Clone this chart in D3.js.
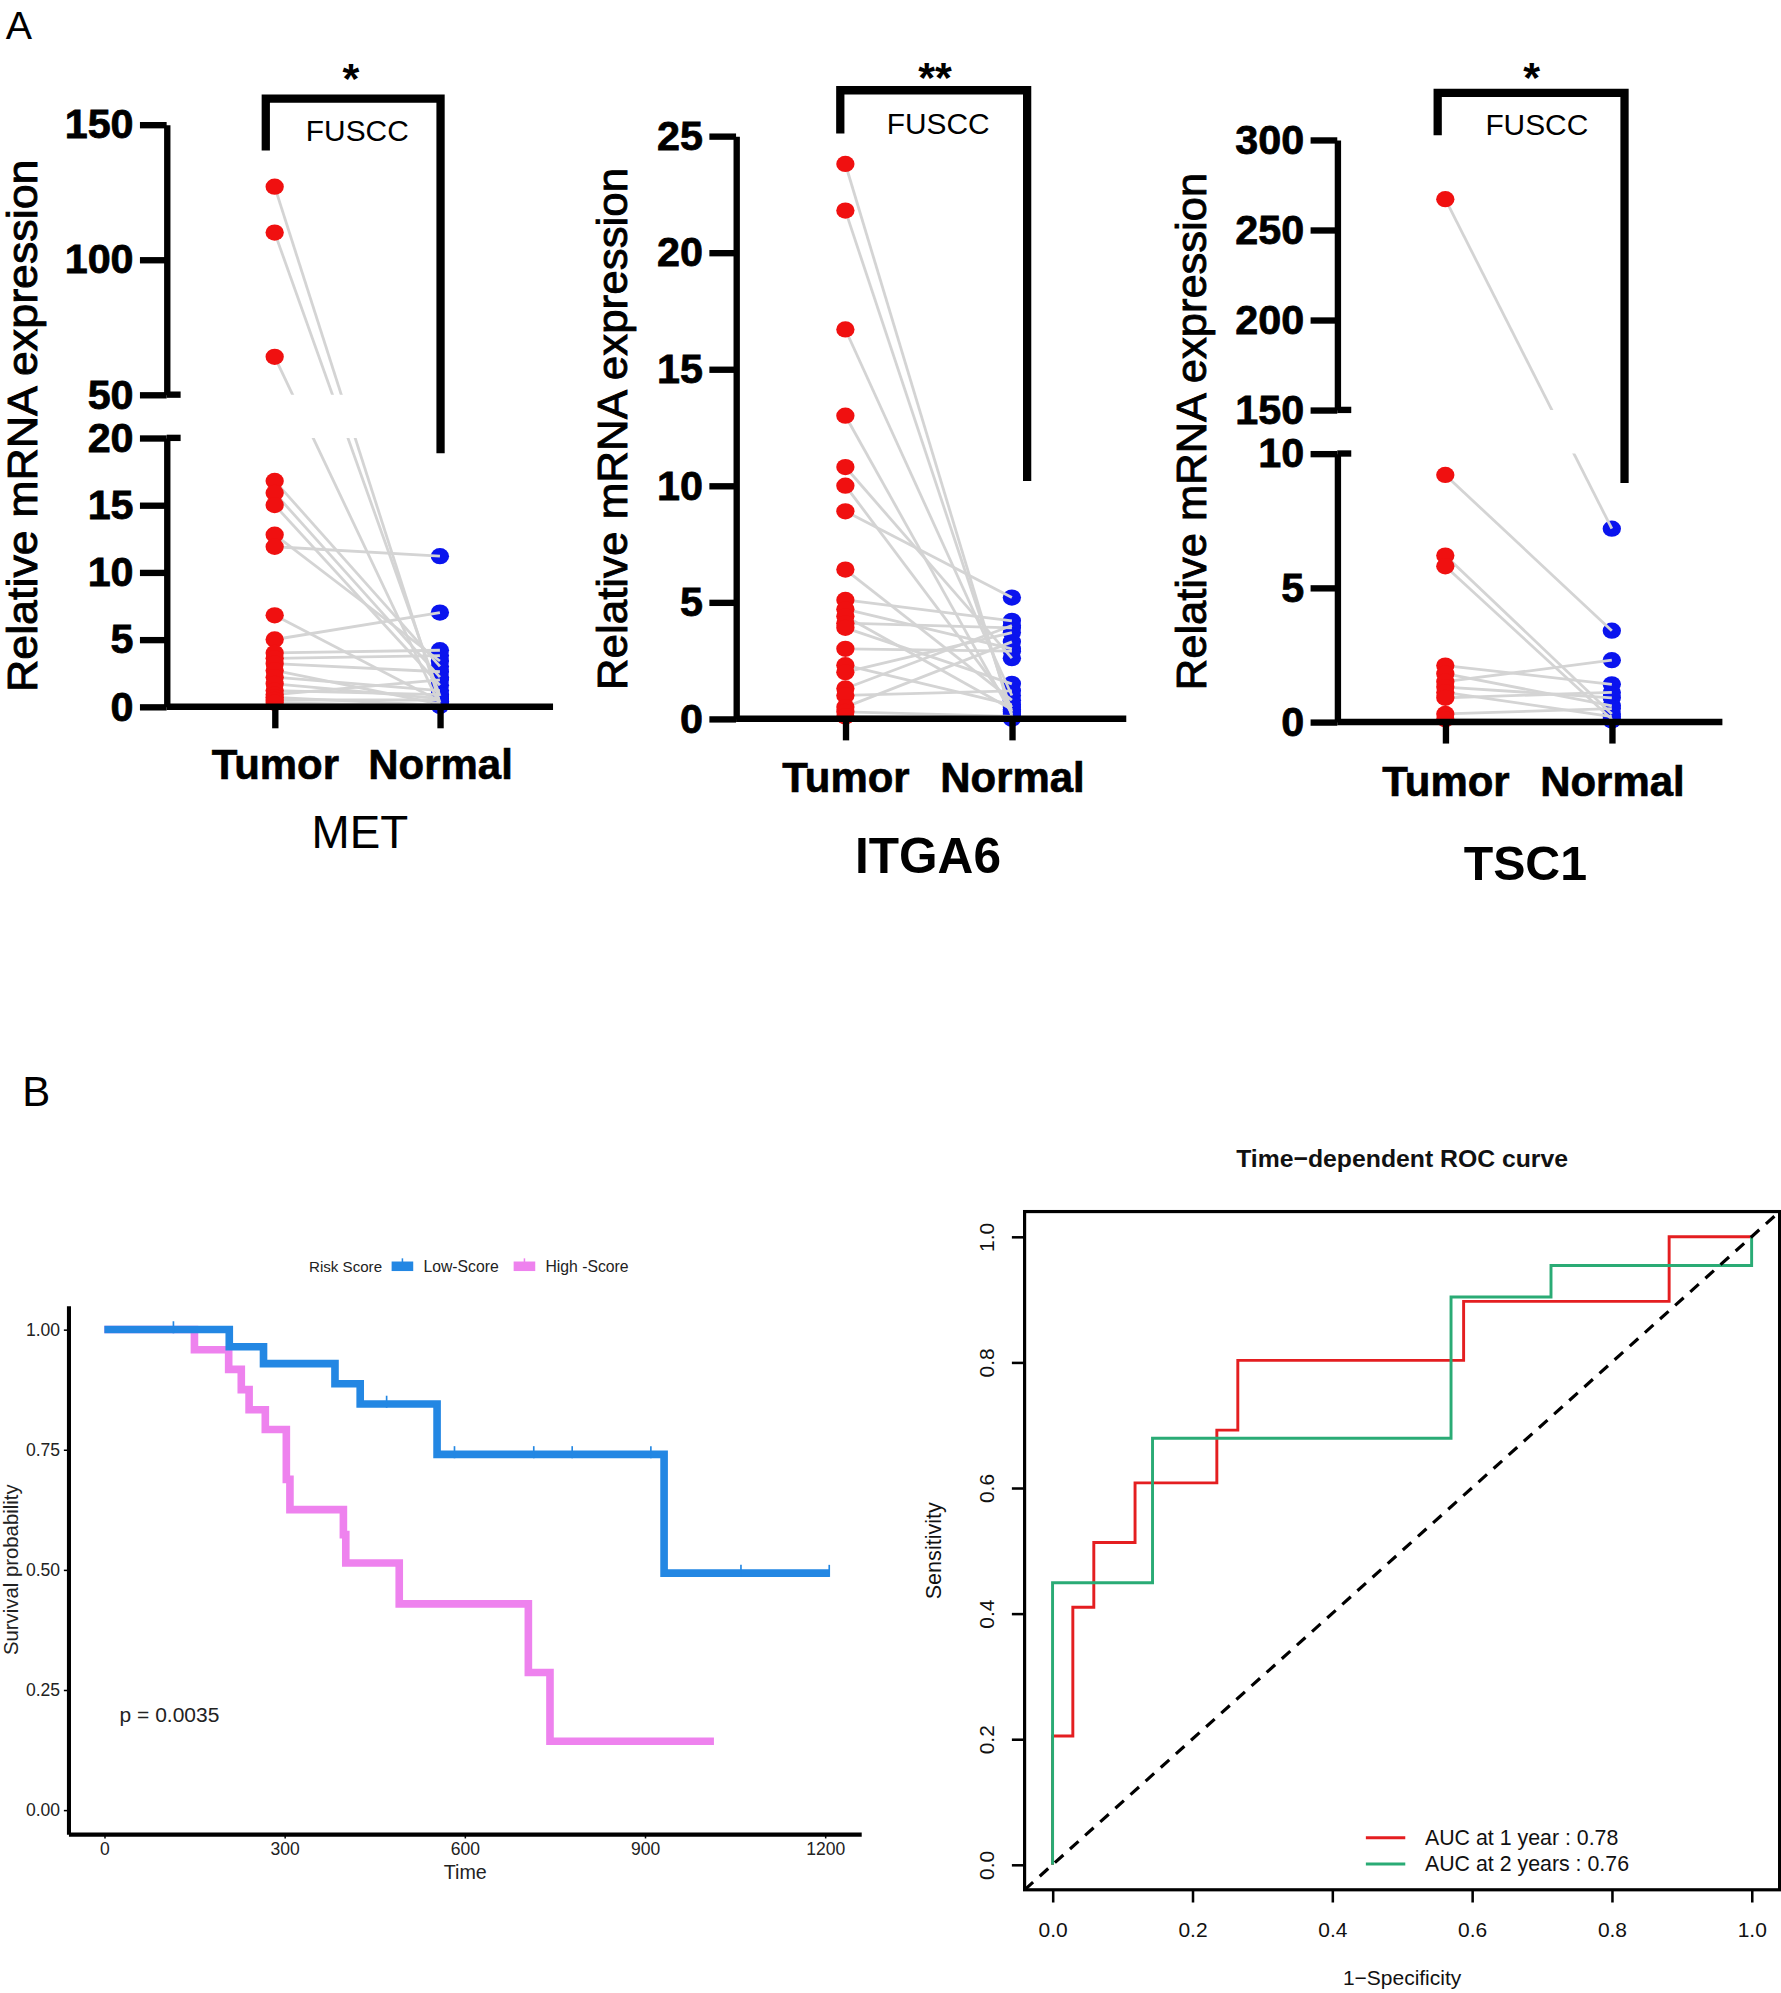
<!DOCTYPE html>
<html><head><meta charset="utf-8">
<script src="https://cdn.jsdelivr.net/npm/d3@7"></script>
<style>body{margin:0;background:#fff}svg{display:block}</style>
</head><body>
<svg id="fig" width="1781" height="1993" viewBox="0 0 1401 1568"></svg>
<script>
// ---------------- DATA ----------------
const pairCategories = ["Tumor", "Normal"];

const metTumor  = [127, 110, 64, 16.8, 15.9, 15.0, 12.8, 11.9, 6.8, 5.0, 4.0, 3.6, 3.2, 2.7, 2.2, 1.7, 1.2, 0.9, 0.7, 0.5, 0.3];
const metNormal = [0.3, 0.8, 0.1, 3.0, 2.2, 1.6, 3.4, 11.2, 0.4, 7.0, 4.2, 3.8, 2.6, 0.2, 1.2, 0.6, 0.9, 2.0, 0.1, 0.5, 0.05];
const metTicksLow = [0, 5, 10, 15, 20];
const metTicksHigh = [50, 100, 150];

const itgTumor  = [23.8, 21.8, 16.7, 13.0, 10.8, 10.0, 8.9, 6.4, 5.1, 4.7, 4.4, 4.1, 3.9, 3.0, 2.3, 2.0, 1.3, 1.0, 0.5, 0.3, 0.1];
const itgNormal = [0.1, 0.3, 1.0, 0.2, 2.6, 0.5, 5.2, 0.8, 4.2, 3.0, 0.4, 3.9, 1.5, 2.9, 0.6, 3.7, 4.0, 1.2, 3.3, 0.1, 0.0];
const itgTicks = [0, 5, 10, 15, 20, 25];

const tscTumor  = [267, 9.2, 6.2, 5.8, 2.1, 1.8, 1.5, 1.3, 1.1, 0.9, 0.3, 0.1];
const tscNormal = [7.2, 3.4, 0.3, 0.1, 1.4, 0.6, 2.3, 0.9, 0.2, 1.1, 0.5, 0.05];
const tscTicksLow = [0, 5, 10];
const tscTicksHigh = [150, 200, 250, 300];

// Kaplan-Meier
const kmLowTime  = [0, 208, 265, 384, 426, 554, 932, 1207];
const kmLowSurv  = [1, 0.964, 0.929, 0.887, 0.845, 0.740, 0.493, 0.493];
const kmLowCensor = [115, 470, 583, 715, 779, 910, 1060, 1207];
const kmHighTime = [0, 150, 207, 228, 241, 268, 303, 309, 398, 402, 491, 706, 742, 1015];
const kmHighSurv = [1, 0.958, 0.917, 0.875, 0.833, 0.792, 0.688, 0.625, 0.573, 0.514, 0.429, 0.286, 0.143, 0.143];
const kmYTicks = [0, 0.25, 0.5, 0.75, 1];
const kmXTicks = [0, 300, 600, 900, 1200];

// ROC
const roc1Fpr = [0, 0, 0.029, 0.059, 0.118, 0.235, 0.265, 0.588, 0.882, 1];
const roc1Tpr = [0, 0.205, 0.41, 0.513, 0.608, 0.692, 0.803, 0.897, 1, 1];
const roc2Fpr = [0, 0, 0.143, 0.570, 0.713, 1];
const roc2Tpr = [0, 0.449, 0.679, 0.904, 0.954, 1];
const rocTicks = [0, 0.2, 0.4, 0.6, 0.8, 1.0];
const rocLegend = ["AUC at 1 year : 0.78", "AUC at 2 years : 0.76"];

// ---------------- DRAW ----------------
const FONT = "'Liberation Sans', Arial, Helvetica, sans-serif";
const svg = d3.select("#fig");
svg.append("rect").attr("width", 1401).attr("height", 1568).attr("fill", "#fff");
const defs = svg.append("defs");
const RED = "#f01010", BLUE = "#0a14ee";

function txt(g, x, y, s, size, opts = {}) {
  const t = g.append("text").attr("x", x).attr("y", y).text(s)
    .attr("font-family", FONT).attr("font-size", size)
    .attr("font-weight", opts.bold ? "bold" : "normal")
    .attr("text-anchor", opts.anchor || "middle")
    .attr("fill", opts.fill || "#000");
  if (opts.rotate) t.attr("transform", `rotate(${opts.rotate},${x},${y})`);
  if (opts.len) t.attr("textLength", opts.len).attr("lengthAdjust", "spacingAndGlyphs");
  if (opts.stroke) t.attr("stroke", opts.fill || "#000").attr("stroke-width", opts.stroke);
  return t;
}

function pairedPanel(o) {
  const g = svg.append("g");
  const segs = o.segments.map(s => ({ ...s, sc: d3.scaleLinear().domain(s.domain).range(s.range) }));
  const yv = v => {
    const s = segs.find(s => v >= s.domain[0] - 1e-9 && v <= s.domain[1] + 1e-9) || segs[0];
    return s.sc(v);
  };
  const x = d3.scalePoint().domain(pairCategories).range([o.tumorX, o.normalX]);
  const y0 = segs[0].sc(0);

  const cp = defs.append("clipPath").attr("id", "clip-" + o.id);
  segs.forEach((s, i) => {
    const top = i === segs.length - 1 ? 0 : s.range[1];
    const bottom = i === 0 ? y0 + 30 : s.range[0];
    cp.append("rect").attr("x", o.axisX).attr("y", top).attr("width", o.xEnd - o.axisX).attr("height", bottom - top);
  });

  g.append("g").selectAll("ellipse").data(o.normal).join("ellipse")
    .attr("cx", x("Normal")).attr("cy", d => yv(d)).attr("rx", 7.2).attr("ry", 6.4).attr("fill", BLUE);
  g.append("g").attr("clip-path", `url(#clip-${o.id})`)
    .selectAll("line").data(o.tumor.map((t, i) => [t, o.normal[i]])).join("line")
    .attr("x1", x("Tumor")).attr("y1", d => yv(d[0]))
    .attr("x2", x("Normal")).attr("y2", d => yv(d[1]))
    .attr("stroke", "#d4d4d4").attr("stroke-width", 2.2);
  g.append("g").selectAll("ellipse").data(o.tumor).join("ellipse")
    .attr("cx", x("Tumor")).attr("cy", d => yv(d)).attr("rx", 7.2).attr("ry", 6.4).attr("fill", RED);

  // y axis segments
  segs.forEach(s => {
    const ax = g.append("g").attr("transform", `translate(${o.axisX},0)`)
      .call(d3.axisLeft(s.sc).tickValues(s.ticks).tickSize(21).tickSizeOuter(0).tickPadding(5));
    ax.select(".domain").attr("stroke", "#000").attr("stroke-width", 5);
    ax.selectAll(".tick line").attr("stroke", "#000").attr("stroke-width", 5);
    ax.selectAll(".tick text").attr("font-family", FONT).attr("font-weight", "bold")
      .attr("font-size", 32.5).attr("fill", "#000").attr("stroke", "#000").attr("stroke-width", 0.6);
  });
  if (segs.length > 1) {
    [segs[0].range[1], segs[1].range[0]].forEach(yy =>
      g.append("line").attr("x1", o.axisX).attr("x2", o.axisX + 11).attr("y1", yy).attr("y2", yy)
        .attr("stroke", "#000").attr("stroke-width", 5));
  }
  // x axis
  g.append("line").attr("x1", o.axisX).attr("x2", o.xEnd).attr("y1", y0).attr("y2", y0)
    .attr("stroke", "#000").attr("stroke-width", 5);
  const xa = g.append("g").attr("transform", `translate(0,${y0})`)
    .call(d3.axisBottom(x).tickSize(17).tickSizeOuter(0));
  xa.select(".domain").remove();
  xa.selectAll(".tick line").attr("stroke", "#000").attr("stroke-width", 5);
  xa.selectAll(".tick text").attr("font-family", FONT).attr("font-weight", "bold")
    .attr("font-size", 33).attr("fill", "#000").attr("stroke", "#000").attr("stroke-width", 0.5)
    .attr("y", o.labelY - y0).attr("dy", 0);

  // bracket
  g.append("path").attr("d", `M${o.br.l},${o.br.lb}V${o.br.top}H${o.br.r}V${o.br.rb}`)
    .attr("fill", "none").attr("stroke", "#000").attr("stroke-width", 6.5).attr("stroke-linejoin", "miter");
  txt(g, o.starX, o.starY + 19.5, o.stars, 34, { bold: true });
  txt(g, o.fusccX, o.fusccY + 8.4, "FUSCC", 23.5);
  txt(g, o.titleX, o.titleY, o.title, o.titleSize, { bold: o.titleBold });
  txt(g, o.yTitleX + 11, o.yTitleY, "Relative mRNA expression", 33,
    { rotate: -90, len: o.yTitleLen, stroke: 0.7 });
}

txt(svg, 4.5, 30.5, "A", 31, { anchor: "start" });

pairedPanel({
  id: "met", tumor: metTumor, normal: metNormal,
  axisX: 131, tumorX: 216, normalX: 346, xEnd: 435,
  segments: [{ domain: [0, 20], range: [556, 344.5], ticks: metTicksLow },
             { domain: [50, 150], range: [310.5, 98], ticks: metTicksHigh }],
  labelY: 613, br: { l: 209, r: 346.5, top: 77.5, lb: 118.5, rb: 356.5 },
  stars: "*", starX: 276, starY: 54, fusccX: 281, fusccY: 102.4,
  title: "MET", titleBold: false, titleSize: 36, titleX: 283, titleY: 667,
  yTitleX: 18, yTitleY: 335, yTitleLen: 419
});
pairedPanel({
  id: "itg", tumor: itgTumor, normal: itgNormal,
  axisX: 579, tumorX: 665, normalX: 796, xEnd: 886,
  segments: [{ domain: [0, 25], range: [565.5, 107], ticks: itgTicks }],
  labelY: 623, br: { l: 661, r: 808, top: 71, lb: 105, rb: 378.5 },
  stars: "**", starX: 735.6, starY: 52.8, fusccX: 738, fusccY: 96.7,
  title: "ITGA6", titleBold: true, titleSize: 39, titleX: 730, titleY: 686.5,
  yTitleX: 482, yTitleY: 337.5, yTitleLen: 411
});
pairedPanel({
  id: "tsc", tumor: tscTumor, normal: tscNormal,
  axisX: 1052, tumorX: 1137, normalX: 1268, xEnd: 1355,
  segments: [{ domain: [0, 10], range: [568, 356.8], ticks: tscTicksLow },
             { domain: [150, 300], range: [322.5, 110], ticks: tscTicksHigh }],
  labelY: 626, br: { l: 1131, r: 1278, top: 73, lb: 106.5, rb: 380 },
  stars: "*", starX: 1205, starY: 52.6, fusccX: 1209, fusccY: 97.8,
  title: "TSC1", titleBold: true, titleSize: 38, titleX: 1200, titleY: 692,
  yTitleX: 938, yTitleY: 339.5, yTitleLen: 407
});

// ---------------- Panel B ----------------
txt(svg, 17.5, 870, "B", 33, { anchor: "start" });

// Kaplan-Meier
(function () {
  const g = svg.append("g");
  const x = d3.scaleLinear().domain([-60, 1260]).range([53.65, 677.35]);
  const y = d3.scaleLinear().domain([-0.05, 1.05]).range([1442.9, 1027.1]);
  const LOWC = "#2387e3", HIGHC = "#ee82ee";
  const line = d3.line().x(d => x(d[0])).y(d => y(d[1])).curve(d3.curveStepAfter);

  const high = kmHighTime.map((t, i) => [t, kmHighSurv[i]]);
  const low = kmLowTime.map((t, i) => [t, kmLowSurv[i]]);
  g.append("path").attr("d", line(high)).attr("fill", "none").attr("stroke", HIGHC).attr("stroke-width", 6);
  g.append("path").attr("d", line(low)).attr("fill", "none").attr("stroke", LOWC).attr("stroke-width", 6);
  const survAt = t => { let s = 1; kmLowTime.forEach((tt, i) => { if (tt <= t) s = kmLowSurv[i]; }); return s; };
  g.append("g").selectAll("line").data(kmLowCensor).join("line")
    .attr("x1", d => x(d)).attr("x2", d => x(d))
    .attr("y1", d => y(survAt(d)) - 6.5).attr("y2", d => y(survAt(d)) + 3)
    .attr("stroke", LOWC).attr("stroke-width", 1.3);

  const ya = g.append("g").attr("transform", "translate(53.65,0)")
    .call(d3.axisLeft(y).tickValues(kmYTicks).tickFormat(d3.format(".2f")).tickSize(3.5).tickSizeOuter(0).tickPadding(3));
  ya.select(".domain").attr("stroke", "#000").attr("stroke-width", 3.2);
  ya.selectAll(".tick line").attr("stroke", "#000").attr("stroke-width", 1.2);
  ya.selectAll(".tick text").attr("font-family", FONT).attr("font-size", 13.8).attr("fill", "#222");
  const xa = g.append("g").attr("transform", "translate(0,1442.9)")
    .call(d3.axisBottom(x).tickValues(kmXTicks).tickFormat(d3.format("d")).tickSize(3.5).tickSizeOuter(0).tickPadding(3));
  xa.select(".domain").attr("stroke", "#000").attr("stroke-width", 3.2);
  xa.selectAll(".tick line").attr("stroke", "#000").attr("stroke-width", 1.2);
  xa.selectAll(".tick text").attr("font-family", FONT).attr("font-size", 13.8).attr("fill", "#222");

  txt(g, 366, 1478, "Time", 15.5, { fill: "#222" });
  txt(g, 14, 1235, "Survival probability", 16, { rotate: -90, fill: "#222" });
  txt(g, 94, 1355, "p = 0.0035", 16.5, { anchor: "start", fill: "#222" });

  // legend
  txt(g, 243, 1000.5, "Risk Score", 11.9, { anchor: "start", fill: "#222" });
  g.append("rect").attr("x", 308).attr("y", 992.5).attr("width", 17).attr("height", 7.5).attr("fill", LOWC);
  g.append("line").attr("x1", 316.5).attr("x2", 316.5).attr("y1", 990).attr("y2", 994).attr("stroke", LOWC).attr("stroke-width", 1.2);
  txt(g, 333, 1000.5, "Low-Score", 12.4, { anchor: "start", fill: "#222" });
  g.append("rect").attr("x", 404).attr("y", 992.5).attr("width", 17).attr("height", 7.5).attr("fill", HIGHC);
  g.append("line").attr("x1", 412.5).attr("x2", 412.5).attr("y1", 990).attr("y2", 994).attr("stroke", HIGHC).attr("stroke-width", 1.2);
  txt(g, 429, 1000.5, "High -Score", 12.4, { anchor: "start", fill: "#222" });
})();

// ROC
(function () {
  const g = svg.append("g");
  const x = d3.scaleLinear().domain([-0.04, 1.04]).range([806, 1400]);
  const y = d3.scaleLinear().domain([-0.04, 1.04]).range([1486.8, 953.2]);
  const R1 = "#e41e20", G2 = "#2aab75";
  defs.append("clipPath").attr("id", "rocclip").append("rect")
    .attr("x", 806).attr("y", 953.2).attr("width", 594).attr("height", 533.6);

  const line = d3.line().x(d => x(d[0])).y(d => y(d[1])).curve(d3.curveStepAfter);
  const c1 = roc1Fpr.map((f, i) => [f, roc1Tpr[i]]);
  const c2 = roc2Fpr.map((f, i) => [f, roc2Tpr[i]]);
  g.append("path").attr("d", line(c1)).attr("fill", "none").attr("stroke", R1).attr("stroke-width", 2.3);
  g.append("path").attr("d", line(c2)).attr("fill", "none").attr("stroke", G2).attr("stroke-width", 2.3);
  g.append("line").attr("clip-path", "url(#rocclip)")
    .attr("x1", x(-0.04)).attr("y1", y(-0.04)).attr("x2", x(1.04)).attr("y2", y(1.04))
    .attr("stroke", "#000").attr("stroke-width", 2.5).attr("stroke-dasharray", "9,7");

  g.append("rect").attr("x", 806).attr("y", 953.2).attr("width", 594).attr("height", 533.6)
    .attr("fill", "none").attr("stroke", "#000").attr("stroke-width", 2.5);

  const ya = g.append("g").attr("transform", "translate(806,0)")
    .call(d3.axisLeft(y).tickValues(rocTicks).tickFormat(d3.format(".1f")).tickSize(10).tickSizeOuter(0));
  ya.select(".domain").remove();
  ya.selectAll(".tick line").attr("stroke", "#000").attr("stroke-width", 2);
  ya.selectAll(".tick text").attr("font-family", FONT).attr("font-size", 16.5).attr("fill", "#111")
    .attr("x", 0).attr("dy", 0).attr("text-anchor", "middle")
    .attr("transform", "translate(-24,0) rotate(-90)");
  const xa = g.append("g").attr("transform", "translate(0,1486.8)")
    .call(d3.axisBottom(x).tickValues(rocTicks).tickFormat(d3.format(".1f")).tickSize(10).tickSizeOuter(0));
  xa.select(".domain").remove();
  xa.selectAll(".tick line").attr("stroke", "#000").attr("stroke-width", 2);
  xa.selectAll(".tick text").attr("font-family", FONT).attr("font-size", 16.5).attr("fill", "#111")
    .attr("y", 1524 - 1486.8).attr("dy", 0);

  txt(g, 1103, 918, "Time\u2212dependent ROC curve", 19.5, { bold: true, fill: "#111" });
  txt(g, 1103, 1562, "1\u2212Specificity", 16.5, { fill: "#111" });
  txt(g, 740, 1220, "Sensitivity", 17, { rotate: -90, fill: "#111" });

  [R1, G2].forEach((c, i) => {
    const yy = [1445.9, 1466.5][i];
    g.append("line").attr("x1", 1074.5).attr("x2", 1105.5).attr("y1", yy).attr("y2", yy)
      .attr("stroke", c).attr("stroke-width", 2.3);
    txt(g, 1121, yy + 5.8, rocLegend[i], 16.8, { anchor: "start", fill: "#111" });
  });
})();
</script>
</body></html>
